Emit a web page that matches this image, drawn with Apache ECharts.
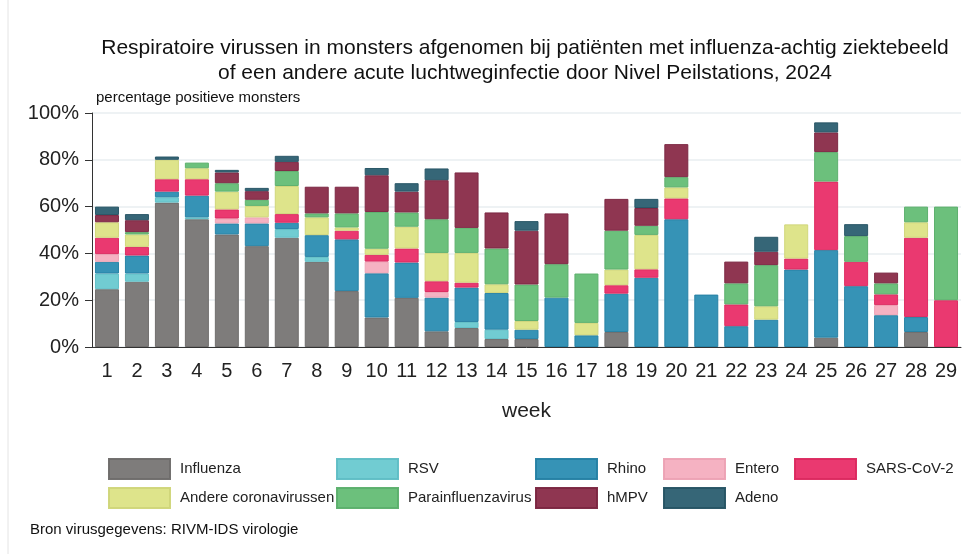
<!DOCTYPE html>
<html>
<head>
<meta charset="utf-8">
<script src="https://cdn.jsdelivr.net/npm/echarts@6/dist/echarts.min.js"></script>
<style>
  html,body{margin:0;padding:0;background:#fff;}
  #main{width:963px;height:554px;}
</style>
</head>
<body>
<div id="main"></div>
<script>
// weken
var weeks=['1','2','3','4','5','6','7','8','9','10','11','12','13','14','15','16','17','18','19','20','21','22','23','24','25','26','27','28','29'];
var yTicks=[0,20,40,60,80,100];

var influenza=[24.7,27.9,61.7,54.6,48.1,43.1,46.7,36.4,23.9,12.6,21,6.7,8.1,3.4,3.4,null,null,6.4,null,null,null,null,null,null,4,null,null,6.4,null];
var rsv=[6.7,3.5,2.3,0.8,null,null,3.7,2.1,null,null,null,null,2.6,4,null,null,null,null,null,null,null,null,null,null,null,null,null,null,null];
var rhino=[5,7.7,2.4,9.3,4.7,9.7,2.7,9.3,22.1,18.9,15.1,14.4,14.7,15.7,4,21.1,5,16.4,29.6,54.6,22.4,8.9,11.7,33.1,37.4,26,13.6,6.4,null];
var entero=[3.3,null,null,null,2.1,2.6,null,null,null,5,null,2.4,null,null,null,null,null,null,null,null,null,null,null,null,null,null,4.3,null,null];
var sarsCov2=[7,3.7,5.3,7,3.9,null,3.7,null,3.7,2.9,6,4.6,2.1,null,null,null,null,3.6,3.6,8.9,null,9.3,null,4.7,29.3,10.4,4.6,33.9,20];
var andereCorona=[6.6,5.3,8.3,4.7,7.6,4.9,12,7.6,1.4,2.6,9.3,12.1,12.7,3.7,3.7,null,5.3,6.7,14.7,4.7,null,null,5.7,14.6,null,null,null,6.6,null];
var parainfluenza=[null,1,null,2.4,3.6,2.6,6.4,1.7,6,15.7,6.1,14.4,10.7,15.3,15.6,14.3,21.1,16.6,3.9,4.4,null,9,17.6,null,12.6,11,4.7,6.7,40];
var hmpv=[3.1,5.1,null,null,4.6,3.7,3.9,11.4,11.4,15.7,8.9,16.7,23.7,15.4,23,21.7,null,13.6,7.6,14.1,null,9.3,5.7,null,8.4,null,4.6,null,null];
var adeno=[3.6,2.6,1.4,null,1.1,1.4,2.6,null,null,3.1,3.6,5,null,null,4.1,null,null,null,3.9,null,null,null,6.4,null,4.3,5.1,null,null,null];

var seriesNames=['Influenza','RSV','Rhino','Entero','SARS-CoV-2','Andere coronavirussen','Parainfluenzavirus','hMPV','Adeno'];
var seriesData=[influenza,rsv,rhino,entero,sarsCov2,andereCorona,parainfluenza,hmpv,adeno];
var colors=['#7a7877','#6ccad1','#2f8fb4','#f5afc0','#e9336b','#dde387','#67be78','#8b2f4b','#2f6173'];
var borders=['#6e6c6b','#60bec5','#2681a4','#eca3b5','#dc2a60','#d0d67a','#5cb06c','#7c2742','#275565'];

var font='"Liberation Sans", Arial, sans-serif';

var series=[];
for(var i=0;i<seriesNames.length;i++){
	series.push({
		name:seriesNames[i],
		type:'bar',
		stack:'totaal',
		barWidth:24,
		data:seriesData[i],
		itemStyle:{color:colors[i],borderColor:borders[i],borderWidth:1,opacity:0.97},
		emphasis:{disabled:true}
	});
}

// legenda in kolommen, zoals het origineel
function legendCol(left,names){
	return {
		orient:'vertical',left:left,top:458,
		itemWidth:61,itemHeight:20,itemGap:7,
		icon:'rect',
		selectedMode:false,
		padding:0,
		textStyle:{fontFamily:font,fontSize:15,color:'#222',padding:[0,0,0,5]},
		data:names
	};
}

var myChart=echarts.init(document.getElementById('main'),null,{renderer:'canvas'});
var option={
	animation:false,
	color:colors,
	textStyle:{fontFamily:font},
	grid:{left:92,right:2,top:113,bottom:207},
	legend:[
		legendCol(108,['Influenza','Andere coronavirussen']),
		legendCol(336,['RSV','Parainfluenzavirus']),
		legendCol(535,['Rhino','hMPV']),
		legendCol(663,['Entero','Adeno']),
		legendCol(794,['SARS-CoV-2'])
	],
	xAxis:{
		type:'category',
		data:weeks,
		name:'week',
		nameLocation:'middle',
		nameGap:54,
		nameTextStyle:{fontFamily:font,fontSize:21,color:'#222'},
		axisLine:{lineStyle:{color:'#333',width:1}},
		axisTick:{alignWithLabel:true,length:7,lineStyle:{color:'#333'}},
		axisLabel:{fontFamily:font,fontSize:20,color:'#222',margin:14}
	},
	yAxis:{
		type:'value',
		min:yTicks[0],max:yTicks[yTicks.length-1],interval:20,
		name:'percentage positieve monsters',
		nameLocation:'end',
		nameGap:8,
		nameTextStyle:{fontFamily:font,fontSize:15,color:'#111',align:'left',padding:[0,0,0,4]},
		axisLine:{show:true,lineStyle:{color:'#333',width:1}},
		axisTick:{show:true,length:7,lineStyle:{color:'#333'}},
		axisLabel:{fontFamily:font,fontSize:20,color:'#222',margin:13,formatter:'{value}%'},
		splitLine:{lineStyle:{color:'#e8eef1',width:1.5}}
	},
	graphic:[
		{type:'line',shape:{x1:8,y1:0,x2:8,y2:554},style:{stroke:'#e4e4e4',lineWidth:1},silent:true},
		{type:'text',x:525,y:48,style:{text:'Respiratoire virussen in monsters afgenomen bij patiënten met influenza-achtig ziektebeeld',font:'21px '+font,fill:'#111',textAlign:'center',textVerticalAlign:'middle'}},
		{type:'text',x:525,y:73,style:{text:'of een andere acute luchtweginfectie door Nivel Peilstations, 2024',font:'21px '+font,fill:'#111',textAlign:'center',textVerticalAlign:'middle'}},
		{type:'text',x:30,y:530,style:{text:'Bron virusgegevens: RIVM-IDS virologie',font:'15px '+font,fill:'#111',textVerticalAlign:'middle'}}
	],
	series:series
};
myChart.setOption(option);
</script>
</body>
</html>
